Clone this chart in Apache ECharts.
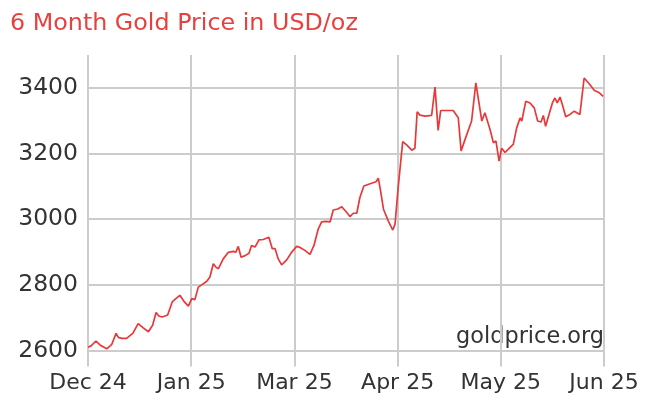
<!DOCTYPE html>
<html>
<head>
<meta charset="utf-8">
<script src="https://cdn.jsdelivr.net/npm/echarts@6/dist/echarts.min.js"></script>
<style>html,body{margin:0;padding:0;background:#fff}#c{width:652px;height:412px}</style>
</head>
<body>
<div id="c"></div>
<script>
var titleText = '6 Month Gold Price in USD/oz';
var sourceText = 'goldprice.org';
var xTickLabels = ['Dec 24', 'Jan 25', 'Mar 25', 'Apr 25', 'May 25', 'Jun 25'];
var yTickValues = [2600, 2800, 3000, 3200, 3400];
// days since start of the 6-month window
var days = [0, 1.1, 2.8, 4.2, 6.6, 8.4, 9.9, 10.7, 11.9, 13.6, 15.8, 17.7, 19.5, 21.3, 22.8, 24.0, 25.0, 26.2, 28.1, 29.7,
  31.0, 32.4, 34.0, 35.4, 36.6, 37.7, 38.9, 40.1, 41.9, 43.0, 44.2, 45.1, 46.0, 47.7, 49.5, 51.2, 52.1, 53.0, 54.0, 55.4,
  56.8, 57.7, 58.9, 60.3, 61.8, 63.8, 65.0, 66.0, 67.1, 68.3, 70.1, 71.8, 73.6, 74.8, 76.5, 78.3, 79.7, 81.2, 82.4, 83.9,
  85.4, 86.5, 88.1, 89.5, 91.2, 92.4, 93.6, 94.8, 95.9, 97.3, 99.5, 101.6, 102.4, 103.2, 104.2, 105.9, 107.5, 108.3, 109.4, 111.0,
  112.4, 114.2, 115.3, 116.1, 117.1, 118.9, 121.2, 122.4, 123.5, 124.4, 126.5, 128.8, 130.6, 131.6, 133.0, 135.3, 136.8, 138.9, 140.0, 141.8,
  143.0, 143.9, 145.0, 145.9, 147.1, 148.8, 150.0, 151.2, 152.4, 153.0, 154.4, 155.9, 157.4, 158.6, 159.8, 160.6, 161.4, 162.6, 163.8, 164.7,
  165.5, 166.5, 167.3, 168.5, 170.0, 171.5, 173.5, 175.0, 177.0, 178.6, 180.2, 181.7];
var prices = [2610, 2614, 2629, 2617, 2605, 2619, 2652, 2640, 2637, 2637, 2652, 2682, 2669, 2657, 2677, 2716, 2705, 2702, 2708, 2748,
  2758, 2768, 2748, 2735, 2758, 2755, 2793, 2800, 2811, 2824, 2864, 2854, 2849, 2879, 2899, 2902, 2899, 2917, 2884, 2889,
  2896, 2920, 2915, 2937, 2938, 2945, 2910, 2910, 2879, 2861, 2876, 2899, 2917, 2914, 2905, 2893, 2920, 2970, 2992, 2993,
  2992, 3028, 3031, 3038, 3021, 3008, 3018, 3018, 3066, 3101, 3108, 3114, 3125, 3086, 3031, 2995, 2967, 2985, 3096, 3236,
  3226, 3210, 3216, 3327, 3317, 3314, 3316, 3402, 3270, 3331, 3331, 3331, 3309, 3208, 3243, 3299, 3415, 3299, 3324, 3273,
  3233, 3238, 3177, 3216, 3203, 3218, 3228, 3278, 3308, 3299, 3359, 3354, 3339, 3299, 3296, 3316, 3283, 3319, 3354, 3369,
  3354, 3372, 3349, 3312, 3319, 3329, 3319, 3430, 3410, 3392, 3386, 3374];

var seriesData = days.map(function (d, i) { return [d, prices[i]]; });
var font = 'DejaVu Sans';
var gridColor = '#cccccc';
var xInterval = 36.4;

var chart = echarts.init(document.getElementById('c'), null, { renderer: 'canvas' });
chart.setOption({
  animation: false,
  backgroundColor: '#ffffff',
  title: {
    text: titleText,
    left: 5,
    top: 7,
    textStyle: { color: '#e8403f', fontFamily: font, fontSize: 23.8, fontWeight: 'normal' }
  },
  graphic: [{
    type: 'text',
    right: 48,
    top: 326,
    style: { text: sourceText, fill: '#333333', font: '22.4px "DejaVu Sans"' }
  }],
  grid: { left: 88, right: 48, top: 55, bottom: 61.5, containLabel: false },
  xAxis: {
    type: 'value',
    min: 0,
    max: 182,
    interval: xInterval,
    axisLine: { show: true, lineStyle: { color: gridColor, width: 2 } },
    axisTick: { show: true, length: 16, lineStyle: { color: gridColor, width: 2 } },
    splitLine: { show: true, lineStyle: { color: gridColor, width: 2 } },
    axisLabel: {
      margin: 22,
      color: '#333333',
      fontFamily: font,
      fontSize: 22,
      showMinLabel: true,
      showMaxLabel: true,
      formatter: function (v) { return xTickLabels[Math.round(v / xInterval)] || ''; }
    }
  },
  yAxis: {
    type: 'value',
    min: yTickValues[0],
    max: 3500,
    interval: 200,
    axisLine: { show: false },
    axisTick: { show: false },
    splitLine: { show: true, showMaxLine: false, lineStyle: { color: gridColor, width: 2 } },
    axisLabel: {
      margin: 10,
      color: '#333333',
      fontFamily: font,
      fontSize: 23.5,
      showMaxLabel: false,
      formatter: function (v) { return String(v); }
    }
  },
  series: [{
    type: 'line',
    data: seriesData,
    symbol: 'none',
    smooth: false,
    lineStyle: { color: '#e8393a', width: 1.7 },
    z: 3
  }]
});
</script>
</body>
</html>
